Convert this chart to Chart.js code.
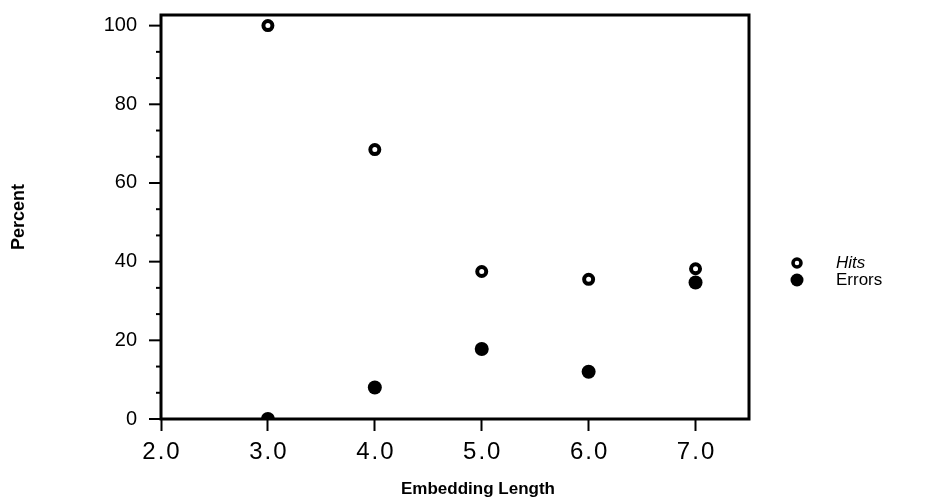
<!DOCTYPE html>
<html>
<head>
<meta charset="utf-8">
<script src="https://cdn.jsdelivr.net/npm/chart.js@4/dist/chart.umd.min.js"></script>
<style>
  html, body { margin: 0; padding: 0; background: #fff; }
</style>
</head>
<body>
<canvas id="chart" width="928" height="504"></canvas>
<script>
const embedLength = [3.0, 4.0, 5.0, 6.0, 7.0];
const hits = [100, 68.5, 37.5, 35.5, 38.2];
const errors = [0, 8, 17.8, 12, 34.7];
const seriesLabels = ['Hits', 'Errors'];
const xTicks = [2, 3, 4, 5, 6, 7];
const yLabelTicks = [0, 20, 40, 60, 80, 100];
const xTitle = 'Embedding Length';

const FONT = '"Liberation Sans", Arial, Helvetica, sans-serif';
const HAIR = '\u200A';

function toPoints(xs, ys) {
  return xs.map((x, i) => ({ x: x, y: ys[i] }));
}

function isLabelTick(v) {
  return yLabelTicks.some(t => Math.abs(t - v) < 1e-6);
}

// y minor ticks + frame + x title + legend
const extras = {
  id: 'extras',
  afterDraw(chart) {
    const ctx = chart.ctx;
    const area = chart.chartArea;
    const y = chart.scales.y;
    ctx.save();
    ctx.strokeStyle = '#000';
    ctx.lineWidth = 2;
    y.ticks.forEach(t => {
      const py = y.getPixelForValue(t.value);
      const len = isLabelTick(t.value) ? 12 : 5;
      ctx.beginPath();
      ctx.moveTo(area.left - len, py);
      ctx.lineTo(area.left, py);
      ctx.stroke();
    });
    ctx.lineWidth = 3;
    ctx.strokeRect(area.left, area.top, area.right - area.left, area.bottom - area.top);

    // x title, sits a bit right of the plot centre in the original
    ctx.fillStyle = '#000';
    ctx.font = 'bold 17px ' + FONT;
    ctx.textAlign = 'center';
    ctx.textBaseline = 'middle';
    ctx.fillText(xTitle, 478, 489);

    // legend
    const ds = chart.data.datasets;
    ds.forEach((d, i) => {
      const ly = 263 + i * 17;
      ctx.beginPath();
      if (d.backgroundColor === '#000') {
        ctx.arc(797, ly, 6.5, 0, Math.PI * 2);
        ctx.fillStyle = '#000';
        ctx.fill();
      } else {
        ctx.arc(797, ly, 4, 0, Math.PI * 2);
        ctx.lineWidth = 3.5;
        ctx.stroke();
      }
      ctx.fillStyle = '#000';
      ctx.font = (i === 0 ? 'italic ' : '') + '17px ' + FONT;
      ctx.textBaseline = 'middle';
      ctx.textAlign = 'left';
      ctx.fillText(d.label, 836, ly);
    });
    ctx.restore();
  }
};

new Chart(document.getElementById('chart').getContext('2d'), {
  type: 'scatter',
  data: {
    datasets: [
      {
        label: seriesLabels[0],
        data: toPoints(embedLength, hits),
        pointStyle: 'circle',
        pointRadius: 4.5,
        pointBorderWidth: 4,
        borderColor: '#000',
        backgroundColor: '#fff',
        clip: 0
      },
      {
        label: seriesLabels[1],
        data: toPoints(embedLength, errors),
        pointStyle: 'circle',
        pointRadius: 7,
        pointBorderWidth: 0,
        borderColor: '#000',
        backgroundColor: '#000',
        clip: 0
      }
    ]
  },
  options: {
    responsive: false,
    animation: false,
    layout: { padding: { left: 0, right: 179, top: 15, bottom: 0 } },
    plugins: {
      legend: { display: false },
      tooltip: { enabled: false }
    },
    scales: {
      x: {
        type: 'linear',
        min: 2,
        max: 7.5,
        afterFit: s => {
          s.height = 85;
          s.paddingLeft = 0;
          s.paddingRight = 0;
        },
        afterBuildTicks: s => {
          s.ticks = xTicks.map(v => ({ value: v }));
        },
        border: { display: false },
        grid: {
          drawOnChartArea: false,
          drawTicks: true,
          tickLength: 12,
          tickWidth: 2,
          tickColor: '#000'
        },
        ticks: {
          padding: 7,
          autoSkip: false,
          maxRotation: 0,
          color: '#000',
          font: { family: FONT, size: 24 },
          callback: v => v.toFixed(1).split('').join(HAIR)
        },
        title: { display: false }
      },
      y: {
        min: 0,
        max: 102.7,
        afterFit: s => {
          s.width = 161;
          s.paddingTop = 0;
          s.paddingBottom = 0;
        },
        afterBuildTicks: s => {
          // labelled ticks every 20 with two minor ticks between
          const t = [];
          for (let i = 0; i < yLabelTicks.length; i++) {
            t.push({ value: yLabelTicks[i] });
            if (i < yLabelTicks.length - 1) {
              const step = (yLabelTicks[i + 1] - yLabelTicks[i]) / 3;
              t.push({ value: yLabelTicks[i] + step });
              t.push({ value: yLabelTicks[i] + 2 * step });
            }
          }
          s.ticks = t;
        },
        border: { display: false },
        grid: { drawOnChartArea: false, drawTicks: false },
        ticks: {
          padding: 24,
          autoSkip: false,
          color: '#000',
          font: { family: FONT, size: 20 },
          callback: v => isLabelTick(v) ? String(Math.round(v)) : ''
        },
        title: {
          display: true,
          text: 'Percent',
          color: '#000',
          font: { family: FONT, size: 18, weight: 'bold' },
          padding: { top: 8, bottom: 0 }
        }
      }
    }
  },
  plugins: [extras]
});
</script>
</body>
</html>
